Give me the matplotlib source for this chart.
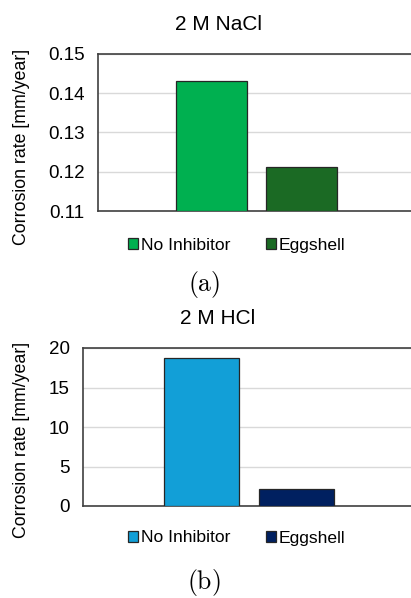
import numpy as np
import matplotlib.pyplot as plt

plt.rcParams['font.family'] = ['Liberation Sans', 'DejaVu Sans']
plt.rcParams['mathtext.fontset'] = 'cm'

series = ['No Inhibitor', 'Eggshell']
nacl_rate = [0.1432, 0.1211]
hcl_rate = [18.77, 2.16]
nacl_colors = ['#00B050', '#1B6A24']
hcl_colors = ['#129FD7', '#002060']

fig = plt.figure(figsize=(4.11, 5.98), dpi=100)
W, H = 411.0, 598.0


def panel(rect, values, colors, title, ylim, yticks, ticklabels, letter, leg_y, letter_y, title_y, ylab_y):
    x0, y0, x1, y1 = rect
    ax = fig.add_axes([x0 / W, 1 - y1 / H, (x1 - x0) / W, (y1 - y0) / H])
    w = 0.36
    offs = [-0.228, 0.228]
    handles = []
    for o, v, c, s in zip(offs, values, colors, series):
        b = ax.bar(o, v - ylim[0], bottom=ylim[0], width=w, color=c,
                   edgecolor='#262626', linewidth=0.9, label=s, zorder=3)
        handles.append(b)
    ax.set_ylim(*ylim)
    ax.set_xlim(-0.80, 0.78)
    ax.set_yticks(yticks)
    ax.set_yticklabels(ticklabels, fontsize=13.5)
    ax.tick_params(axis='y', length=0, pad=9.5)
    ax.set_xticks([])
    ax.grid(axis='y', color='#D9D9D9', linewidth=1, zorder=0)
    for sp in ['top', 'left', 'bottom']:
        ax.spines[sp].set_color('#404040')
        ax.spines[sp].set_linewidth(1.2)
    ax.spines['right'].set_visible(False)
    fig.text(21 / W, 1 - ylab_y / H, 'Corrosion rate [mm/year]', rotation=90,
             ha='center', va='center', fontsize=12.8)
    fig.text(218 / W, 1 - title_y / H, title, ha='center', va='center', fontsize=15)
    fig.legend(handles=handles, loc='center', bbox_to_anchor=(237 / W, 1 - leg_y / H),
               ncol=2, frameon=False, fontsize=12.6, handlelength=0.55, handleheight=0.55,
               handletextpad=0.2, columnspacing=2.0)
    fig.text(204 / W, 1 - letter_y / H, r'$\mathrm{(%s)}$' % letter, ha='center', va='center', fontsize=18.5)
    return ax


panel((98, 54, 411, 211), nacl_rate, nacl_colors, '2 M NaCl', (0.11, 0.15),
      [0.11, 0.12, 0.13, 0.14, 0.15], ['0.11', '0.12', '0.13', '0.14', '0.15'],
      'a', 245, 285, 25, 147)
panel((83, 348, 411, 506), hcl_rate, hcl_colors, '2 M HCl', (0, 20),
      [0, 5, 10, 15, 20], ['0', '5', '10', '15', '20'],
      'b', 538, 583, 318, 440)

fig.savefig('out.png', dpi=100)
